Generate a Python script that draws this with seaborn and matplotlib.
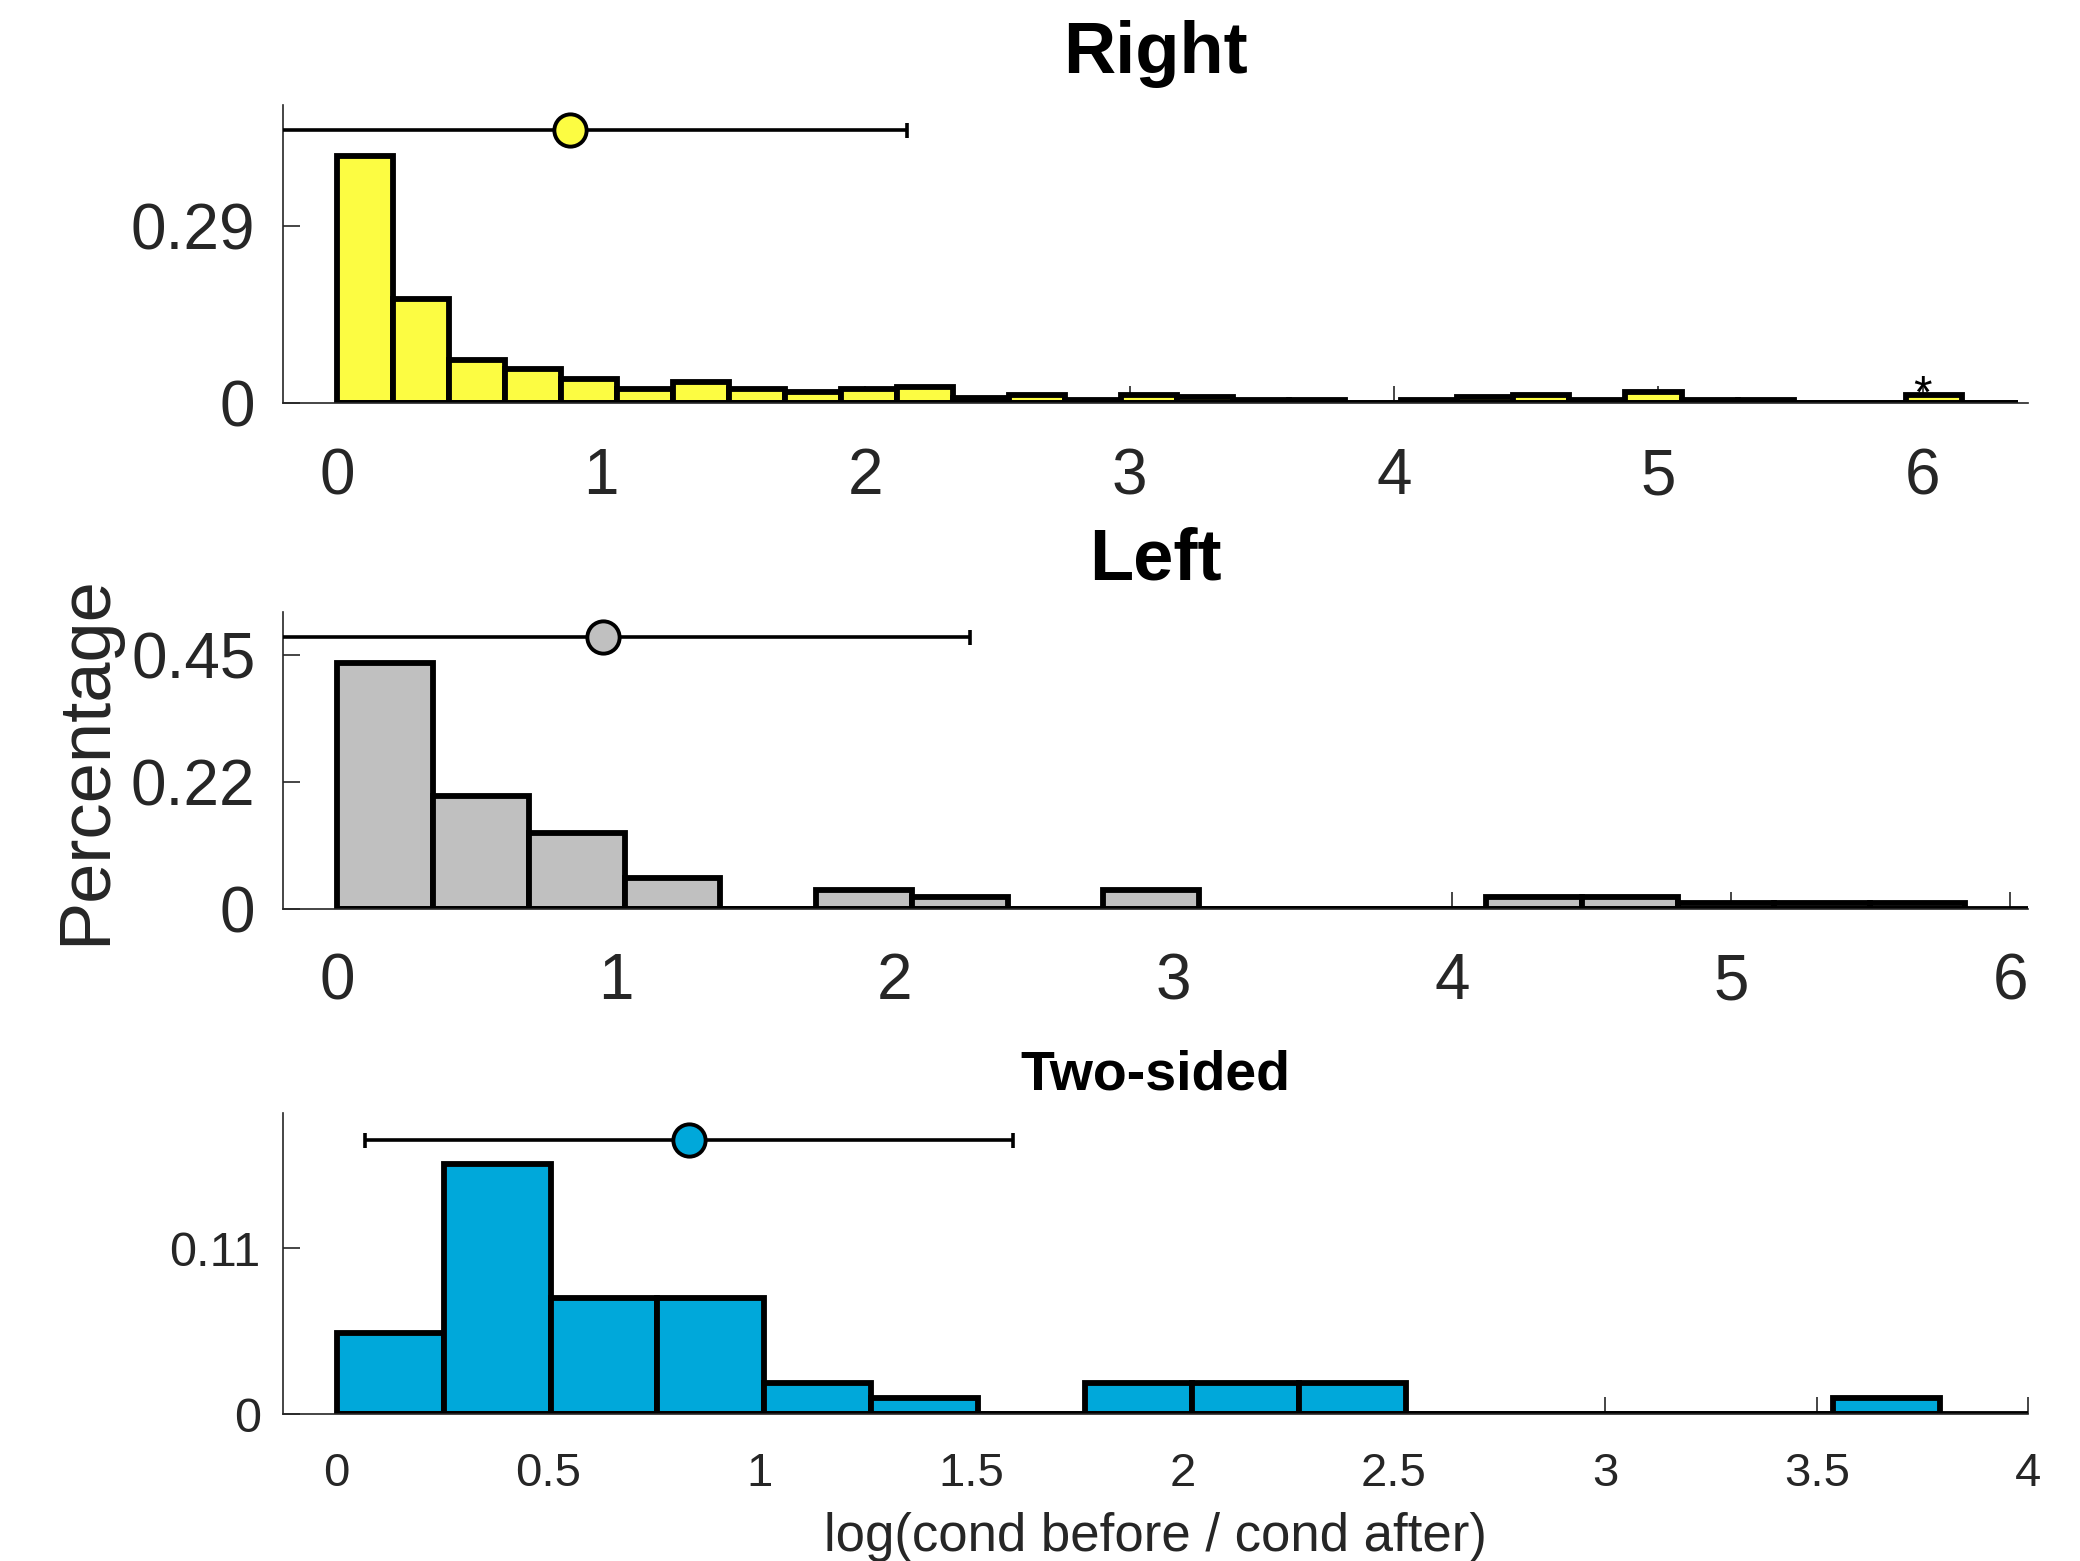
import numpy as np
import pandas as pd
import matplotlib
matplotlib.use('Agg')
import matplotlib.pyplot as plt
from matplotlib.ticker import FormatStrFormatter
import seaborn as sns

# bin heights (fraction of cases)
right_heights = [0.404, 0.170, 0.070, 0.056, 0.039, 0.022, 0.034, 0.022, 0.018, 0.022,
                 0.025, 0.008, 0.013, 0.004, 0.013, 0.009, 0.004, 0.004, 0.0, 0.004,
                 0.009, 0.013, 0.004, 0.017, 0.004, 0.004, 0.0, 0.0, 0.013, 0.0]
right_bin_width = 0.212

left_heights = [0.437, 0.201, 0.135, 0.056, 0.0, 0.034, 0.022, 0.0, 0.034, 0.0,
                0.0, 0.0, 0.022, 0.022, 0.011, 0.011, 0.011]
left_bin_width = 0.3435

two_heights = [0.054, 0.166, 0.077, 0.077, 0.021, 0.011, 0.0, 0.021, 0.021, 0.021,
               0.0, 0.0, 0.0, 0.0, 0.011]
two_bin_width = 0.2528

# mean +/- sd drawn above each histogram
right_mean, right_sd = 0.882, 1.274
left_mean, left_sd = 0.952, 1.318
two_mean, two_sd = 0.832, 0.766

right_star_x = 6.0

right_yticks = [0, 0.29]
right_yticklabels = ['0', '0.29']
left_yticks = [0, 0.225, 0.45]
left_yticklabels = ['0', '0.22', '0.45']
two_yticks = [0, 0.11]
two_yticklabels = ['0', '0.11']

right_xticks = [0, 1, 2, 3, 4, 5, 6]
left_xticks = [0, 1, 2, 3, 4, 5, 6]
two_xticks = [0, 0.5, 1, 1.5, 2, 2.5, 3, 3.5, 4]

AX_COLOR = '#262626'
EDGE_LW = 2.1


def draw_panel(ax, heights, width, color, mean, sd, err_y, base_end=None):
    n = len(heights)
    df = pd.DataFrame({'x': (np.arange(n) + 0.5) * width, 'w': heights})
    sns.histplot(data=df, x='x', weights='w', binwidth=width, binrange=(0, n * width),
                 stat='count', color=color, edgecolor='black', linewidth=EDGE_LW,
                 alpha=1, ax=ax)
    # empty bins still leave their outline on the baseline
    ax.hlines(0, 0, base_end if base_end is not None else n * width,
              color='black', lw=EDGE_LW, zorder=2)
    ax.errorbar(mean, err_y, xerr=sd, fmt='none', ecolor='black', elinewidth=1.3,
                capsize=2.7, capthick=1.3, zorder=3)
    sns.scatterplot(x=[mean], y=[err_y], color=color, edgecolor='black', linewidth=1.4,
                    s=135, zorder=4, ax=ax, legend=False)
    ax.set_xlabel('')
    ax.set_ylabel('')
    sns.despine(ax=ax)
    for side in ['left', 'bottom']:
        ax.spines[side].set_color(AX_COLOR)
        ax.spines[side].set_linewidth(0.6)


sns.set_theme(style='white')
plt.rcParams['font.family'] = ['Liberation Sans', 'DejaVu Sans']

fig = plt.figure(figsize=(10.4, 7.805), dpi=200)
ax_r = fig.add_axes([0.1361, 0.742, 0.839, 0.1907])
ax_l = fig.add_axes([0.1361, 0.4175, 0.839, 0.1906])
ax_t = fig.add_axes([0.1361, 0.094, 0.839, 0.1928])

draw_panel(ax_r, right_heights, right_bin_width, '#FCFC42', right_mean, right_sd, 0.447)
draw_panel(ax_l, left_heights, left_bin_width, '#C0C0C0', left_mean, left_sd, 0.482,
           base_end=6.065)
draw_panel(ax_t, two_heights, two_bin_width, '#00A8DA', two_mean, two_sd, 0.182,
           base_end=4.0)

ax_r.text(right_star_x, 0.012, '*', ha='center', va='center', fontsize=17, color='black')

ax_r.set_xlim(-0.204, 6.40)
ax_r.set_ylim(0, 0.488)
ax_l.set_xlim(-0.194, 6.065)
ax_l.set_ylim(0, 0.527)
ax_t.set_xlim(-0.127, 4.0)
ax_t.set_ylim(0, 0.1995)

for ax, xt, yt, ytl in [(ax_r, right_xticks, right_yticks, right_yticklabels),
                        (ax_l, left_xticks, left_yticks, left_yticklabels),
                        (ax_t, two_xticks, two_yticks, two_yticklabels)]:
    ax.set_xticks(xt)
    ax.set_yticks(yt)
    ax.set_yticklabels(ytl)
    ax.xaxis.set_major_formatter(FormatStrFormatter('%g'))
    ax.tick_params(bottom=True, left=True, direction='in', length=6, width=0.6,
                   color=AX_COLOR, labelcolor=AX_COLOR)

ax_r.tick_params(axis='x', labelsize=23, pad=16)
ax_r.tick_params(axis='y', labelsize=23, pad=10)
ax_l.tick_params(axis='x', labelsize=23, pad=15.5)
ax_l.tick_params(axis='y', labelsize=23, pad=10)
ax_t.tick_params(axis='x', labelsize=17, pad=13.5)
ax_t.tick_params(axis='y', labelsize=17.5, pad=8)

ax_r.set_title('Right', fontsize=26, fontweight='bold', pad=11.5, color='black')
ax_l.set_title('Left', fontsize=26, fontweight='bold', pad=11.5, color='black')
ax_t.set_title('Two-sided', fontsize=20, fontweight='bold', pad=8.4, color='black')

ax_l.set_ylabel('Percentage', fontsize=26, color=AX_COLOR)
ax_l.yaxis.set_label_coords(-0.0934, 0.5)
ax_t.set_xlabel('log(cond before / cond after)', fontsize=19, color=AX_COLOR, labelpad=6)

fig.savefig('out.png', dpi=200, facecolor='white')
